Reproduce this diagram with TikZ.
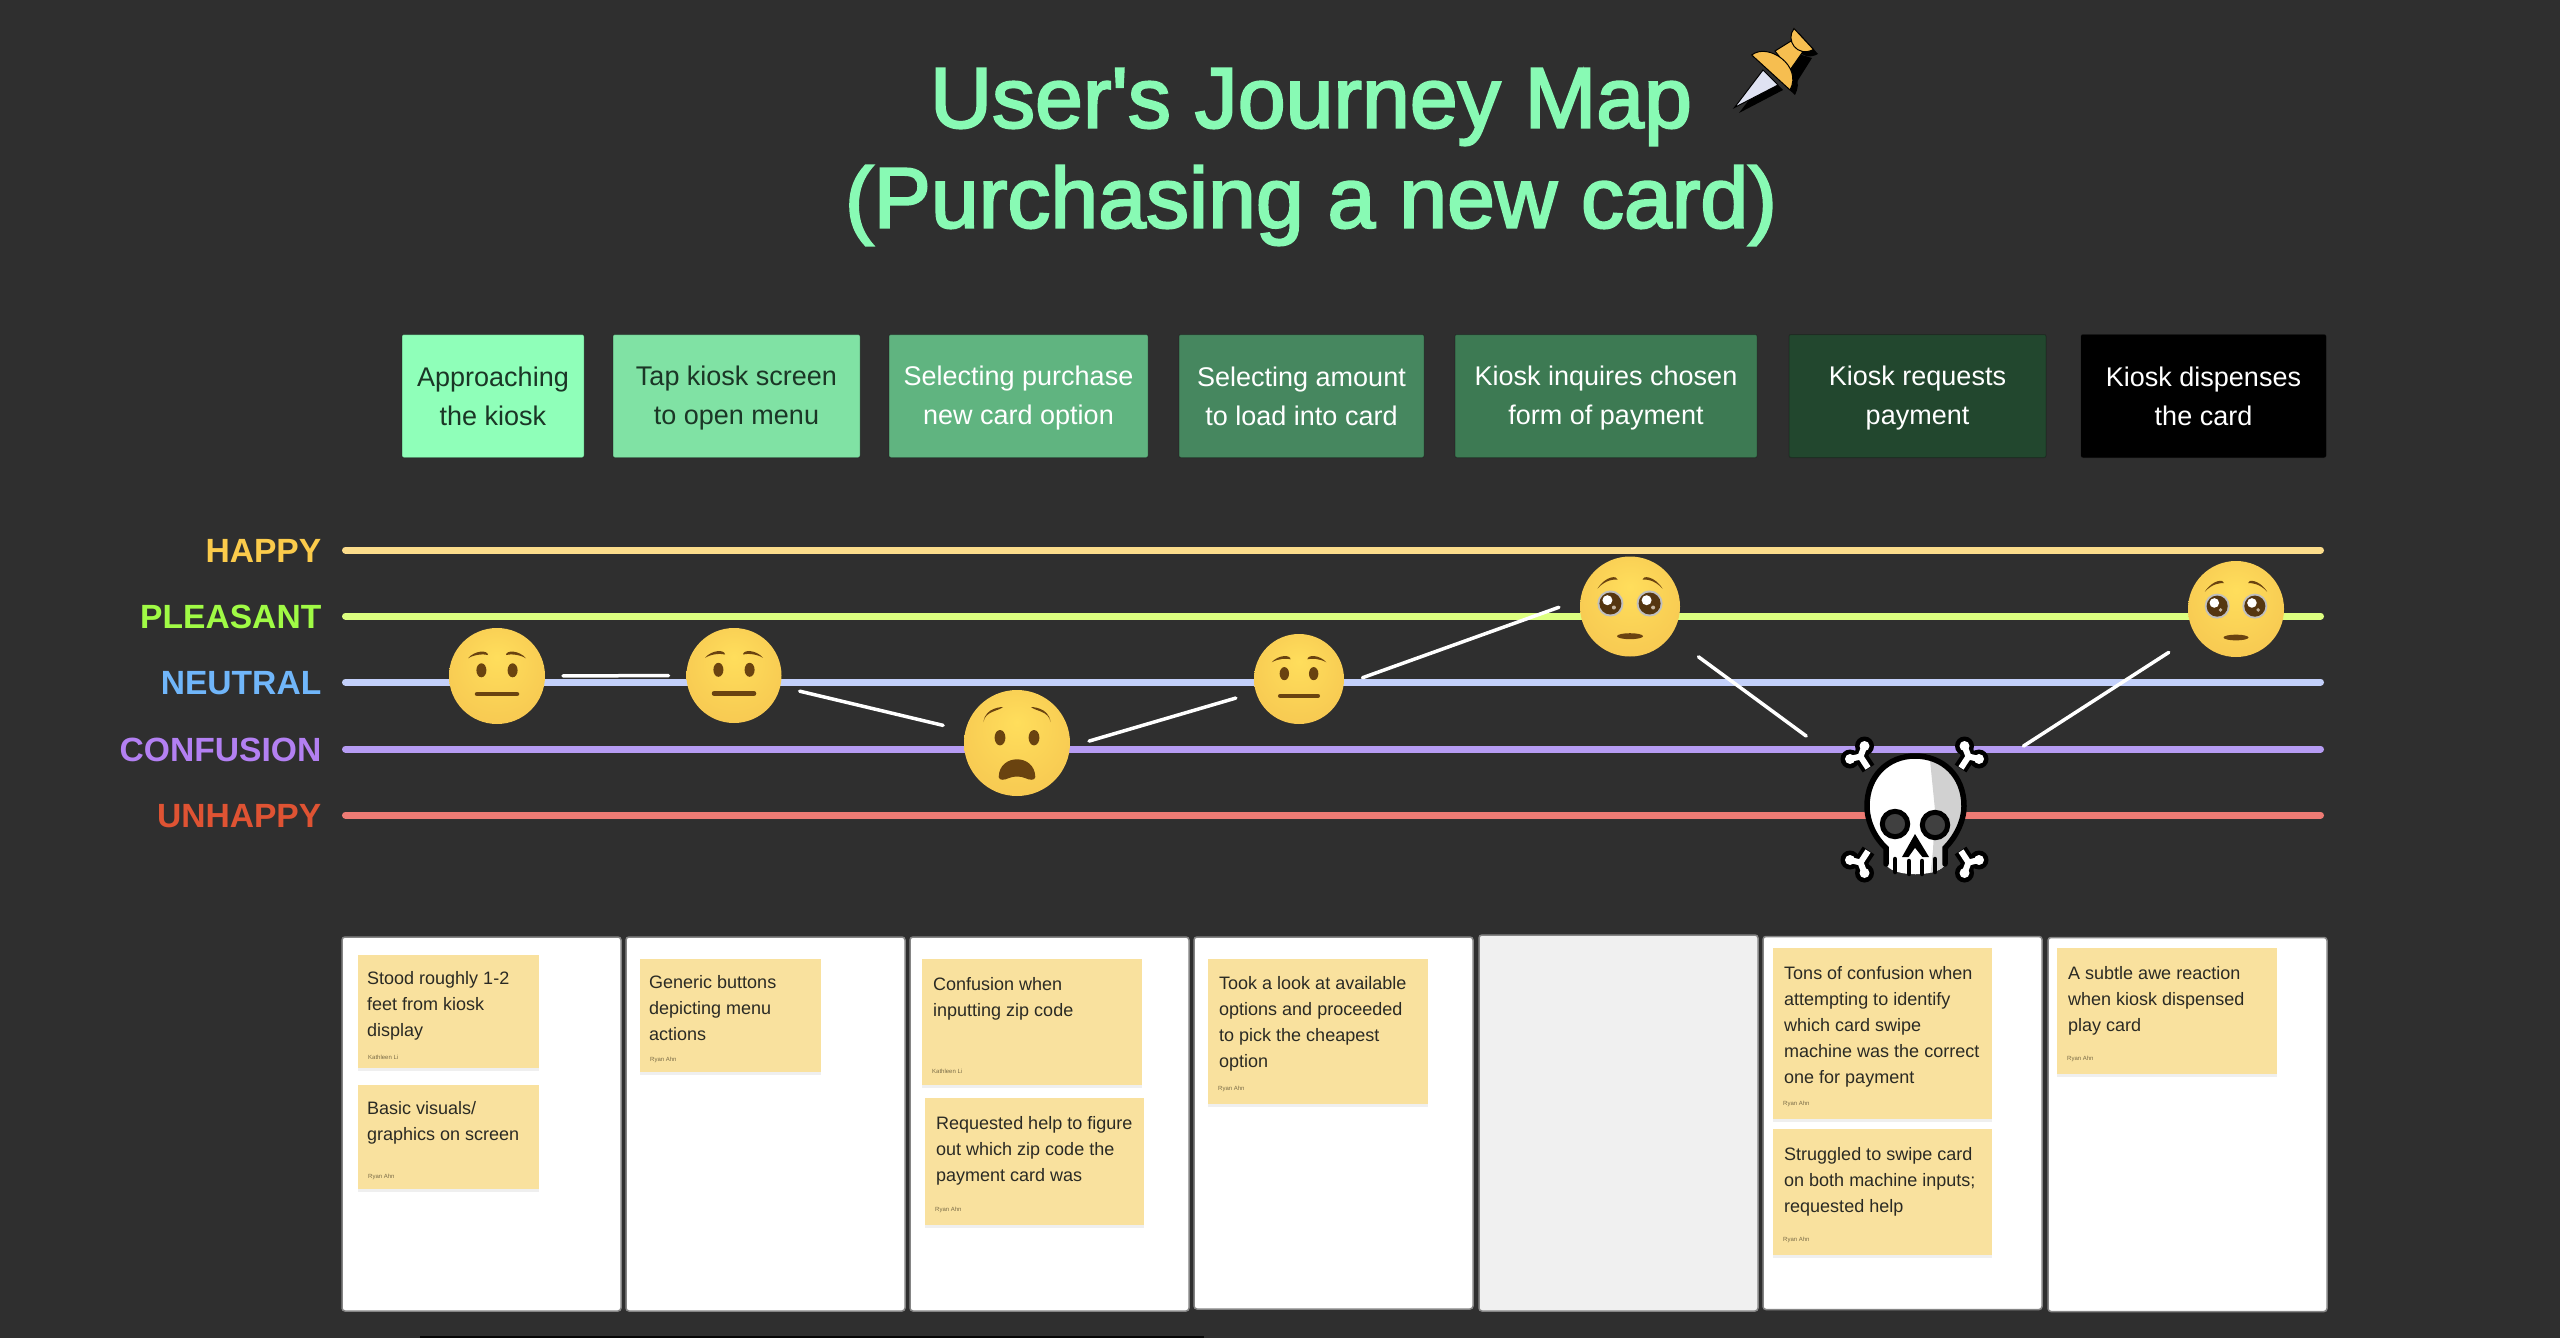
\documentclass[tikz,border=0pt]{standalone}
\usepackage{fontspec}
\usepackage{xcolor}
\usepackage{tikz}
\usetikzlibrary{positioning, shadows}
\setmainfont{Liberation Sans}
\newfontfamily\titlefont[FakeBold=2.5]{Liberation Sans}
\definecolor{boardbg}{HTML}{2F2F2F}
\definecolor{titlegreen}{HTML}{88FAB4}
\definecolor{stepA}{HTML}{8FFFB9}
\definecolor{stepB}{HTML}{80E2A4}
\definecolor{stepC}{HTML}{60B480}
\definecolor{stepD}{HTML}{46875F}
\definecolor{stepE}{HTML}{3D7A53}
\definecolor{stepF}{HTML}{22472E}
\definecolor{stepdark}{HTML}{1B3626}
\definecolor{happytext}{HTML}{FBCB4B}
\definecolor{pleasanttext}{HTML}{A0FB45}
\definecolor{neutraltext}{HTML}{70B6FA}
\definecolor{confusiontext}{HTML}{B380F2}
\definecolor{unhappytext}{HTML}{DF5333}
\definecolor{happyline}{HTML}{FBDC8B}
\definecolor{pleasantline}{HTML}{DDFF80}
\definecolor{neutralline}{HTML}{C3D0FA}
\definecolor{confusionline}{HTML}{B69CF3}
\definecolor{unhappyline}{HTML}{EE7B74}
\definecolor{notefill}{HTML}{F9E19E}
\definecolor{notetext}{HTML}{2A2A24}
\definecolor{authortext}{HTML}{7A6C48}
\definecolor{cardedge}{HTML}{858585}
\definecolor{emptycard}{HTML}{F0F0F0}
\definecolor{facebrown}{HTML}{6A4310}
\definecolor{eyebrown}{HTML}{553610}
\definecolor{pingold}{HTML}{F6BE50}
\definecolor{pinsteel}{HTML}{DFE2F2}
\pgfdeclareradialshading{facegrad}{\pgfpoint{0bp}{10bp}}{
  rgb(0bp)=(1,.87,.36);
  rgb(22bp)=(.976,.81,.33);
  rgb(50bp)=(.953,.737,.298)}
\newcommand{\notebody}[5]{\parbox[c][#2pt][t]{#1pt}{\vspace*{#3pt}\raggedright\leftskip=#4pt\relax\strut #5}}
\newcommand{\browpair}[6]{%
  \fill[facebrown] (-#1,#2) .. controls (-#3,#4) and (-#5,#4) .. (-#5,#6) .. controls (-#5-4,#4+4) and (-#3,#4+4) .. cycle;
  \fill[facebrown] (#1,#2) .. controls (#3,#4) and (#5,#4) .. (#5,#6) .. controls (#5+4,#4+4) and (#3,#4+4) .. cycle;}
\newcommand{\neutralfeatures}[2]{%
  \begin{scope}[shift={(#1.center)}, scale=#2]
    \browpair{29}{-17.7}{22}{-26}{9}{-21}
    \fill[facebrown] (-15.6,-5.7) ellipse (5 and 7);
    \fill[facebrown] (15.6,-5.7) ellipse (5 and 7);
    \draw[facebrown, line width=4.5pt, line cap=round] (-20,18) -- (20,18);
  \end{scope}}
\newcommand{\pleadingfeatures}[2]{%
  \begin{scope}[shift={(#1.center)}, scale=#2]
    \browpair{32.5}{-18}{24}{-31}{12.5}{-27}
    \foreach \ex in {-19.6,19.6}{
      \fill[black!25] (\ex,-3) circle (13);
      \fill[eyebrown] (\ex,-3) circle (11);
      \fill[white] (\ex-3,-6.3) circle (5);
      \fill[white!60!facebrown] (\ex+3.5,1) circle (2);
    }
    \fill[facebrown] (0,29.7) ellipse (13 and 3);
  \end{scope}}

\begin{document}
\begin{tikzpicture}[
    x=1pt, y=-1pt,
    stepbox/.style={rectangle, draw=black, draw opacity=.22, line width=1pt, outer sep=0pt, rounded corners=2pt, minimum height=123pt, align=center, text=white, font=\fontsize{27}{39}\selectfont, execute at begin node={\rule{0pt}{63pt}}, execute at end node={\rule[-5pt]{0pt}{1pt}}},
    levellabel/.style={inner sep=0pt, yshift=-1pt, font=\bfseries\fontsize{33.6}{35}\selectfont},
    levelline/.style={line width=7pt, line cap=round},
    card/.style={rectangle, draw=cardedge, fill=white, line width=1.5pt, outer sep=0pt, rounded corners=3pt, minimum width=279pt},
    sticky/.style={rectangle, anchor=north west, fill=notefill, inner sep=0pt, text=notetext, drop shadow={opacity=.12, shadow xshift=0pt, shadow yshift=-3pt}, font=\fontsize{18}{26}\selectfont},
    authorlabel/.style={anchor=south west, inner sep=0pt, text=authortext, xshift=10pt, yshift=9pt, font=\fontsize{6}{7}\selectfont},
    face/.style={circle, draw=none, inner sep=0pt, outer sep=0pt, shading=facegrad},
    journeyline/.style={white, line width=3.5pt, line cap=round}
]
    \useasboundingbox (0,0) rectangle (2560,1338);
    \fill[boardbg] (0,0) rectangle (2560,1338);
    \fill[black!85!boardbg] (420,1336) rectangle (1204,1338);

    % title and pin
    \node[align=center, text=titlegreen, font=\titlefont\fontsize{86}{100}\selectfont] (title) at (1311,157) {User's Journey Map\\(Purchasing a new card)};
    \fill[black] (1739,113) -- (1768,75) -- (1783,90) -- cycle;
    \fill[black] (1757,60) .. controls (1773,47) and (1808,71) .. (1795,95) -- cycle;
    \fill[black] (1799,33) .. controls (1790,45) and (1802,63) .. (1818,54) -- cycle;
    \fill[black] (1785,50) -- (1812,58) -- (1795,85) -- cycle;
    \draw[black, fill=pinsteel, line width=1pt] (1734.5,107.5) -- (1763,70) -- (1778,85) -- cycle;
    \draw[black, fill=pingold, line width=1pt] (1775,51) -- (1791,41) -- (1803,51.5) -- (1790,70) -- cycle;
    \draw[black, fill=pingold, line width=1pt] (1751.7,55) .. controls (1768,42) and (1803,66) .. (1790,90) -- cycle;
    \draw[black, fill=pingold, line width=1pt] (1794,28.5) .. controls (1785,40) and (1797,58) .. (1813.5,49.5) -- cycle;

    % steps
    \node[stepbox, fill=stepA, minimum width=182pt, text=stepdark] (s1) at (493,396) {Approaching\\the kiosk};
    \node[stepbox, fill=stepB, minimum width=247pt, text=stepdark, right=29pt of s1] (s2) {Tap kiosk screen\\to open menu};
    \node[stepbox, fill=stepC, minimum width=259pt, right=29pt of s2] (s3) {Selecting purchase\\new card option};
    \node[stepbox, fill=stepD, minimum width=245pt, right=31pt of s3] (s4) {Selecting amount\\to load into card};
    \node[stepbox, fill=stepE, minimum width=302pt, right=31pt of s4] (s5) {Kiosk inquires chosen\\form of payment};
    \node[stepbox, fill=stepF, minimum width=257pt, right=32pt of s5] (s6) {Kiosk requests\\payment};
    \node[stepbox, fill=black, minimum width=245pt, right=35pt of s6] (s7) {Kiosk dispenses\\the card};

    % mood levels
    \coordinate (happyL) at (345.5,550);
    \coordinate (happyR) at (2320.5,550);
    \coordinate (pleasantL) at (345.5,616);
    \coordinate (pleasantR) at (2320.5,616);
    \coordinate (neutralL) at (345.5,682);
    \coordinate (neutralR) at (2320.5,682);
    \coordinate (confusionL) at (345.5,749);
    \coordinate (confusionR) at (2320.5,749);
    \coordinate (unhappyL) at (345.5,815);
    \coordinate (unhappyR) at (2320.5,815);
    \draw[levelline, happyline] (happyL) -- (happyR);
    \draw[levelline, pleasantline] (pleasantL) -- (pleasantR);
    \draw[levelline, neutralline] (neutralL) -- (neutralR);
    \draw[levelline, confusionline] (confusionL) -- (confusionR);
    \draw[levelline, unhappyline] (unhappyL) -- (unhappyR);
    \node[levellabel, text=happytext, left=24pt of happyL] (happy) {HAPPY};
    \node[levellabel, text=pleasanttext, left=24pt of pleasantL] (pleasant) {PLEASANT};
    \node[levellabel, text=neutraltext, left=24pt of neutralL] (neutral) {NEUTRAL};
    \node[levellabel, text=confusiontext, left=24pt of confusionL] (confusion) {CONFUSION};
    \node[levellabel, text=unhappytext, left=24pt of unhappyL] (unhappy) {UNHAPPY};

    % faces
    \node[face, minimum size=96pt] (f1) at (497,676) {};
    \node[face, minimum size=95pt] (f2) at (734,675.5) {};
    \node[face, minimum size=106pt] (f3) at (1017,743) {};
    \node[face, minimum size=90pt] (f4) at (1299,679) {};
    \node[face, minimum size=100pt] (f5) at (1630,606.5) {};
    \node[face, minimum size=96pt] (f6) at (2236,609) {};
    \node[circle, minimum size=150pt, inner sep=0pt, outer sep=0pt] (skull) at (1915,816) {};
    \neutralfeatures{f1}{1}
    \neutralfeatures{f2}{1}
    \neutralfeatures{f4}{.94}
    \pleadingfeatures{f5}{1}
    \pleadingfeatures{f6}{.96}
    \begin{scope}[shift={(f3.center)}]
      \browpair{33.5}{-21}{32}{-36}{14}{-36}
      \fill[facebrown] (-17,-5.3) ellipse (5.4 and 7.7);
      \fill[facebrown] (17,-5.3) ellipse (5.4 and 7.7);
      \fill[facebrown] (-18.3,34) .. controls (-18,22) and (-9,16.3) .. (0,16.3) .. controls (9,16.3) and (18,22) .. (18.3,34) .. controls (18,38) and (12,37) .. (8,35) .. controls (3,33) and (-3,33) .. (-8,35) .. controls (-12,37) and (-18,38) .. cycle;
    \end{scope}

    % skull and bones
    \foreach \sx/\sy in {1/1,-1/1,1/-1,-1/-1}{
      \begin{scope}[shift={(1914.5,809.5)}, xscale=\sx, yscale=\sy]
        \draw[black, line width=14pt] (-50,-63.5) -- (-54,-53) -- (-64.5,-50.5);
        \draw[black, line width=14pt] (-54,-53) -- (-46,-41);
        \fill[black] (-50,-63.5) circle (9.5);
        \fill[black] (-64.5,-50.5) circle (9.5);
        \draw[white, line width=6pt] (-50,-63.5) -- (-54,-53) -- (-64.5,-50.5);
        \draw[white, line width=6pt] (-54,-53) -- (-46.5,-41.5);
        \fill[white] (-50,-63.5) circle (5);
        \fill[white] (-64.5,-50.5) circle (5);
      \end{scope}
    }
    \fill[white] (1887,866) -- (1887,848) .. controls (1875,838) and (1867,822) .. (1867,806) .. controls (1867,776) and (1888,756) .. (1915,756) .. controls (1943,756) and (1964,776) .. (1964,806) .. controls (1964,822) and (1955,838) .. (1944,848) -- (1944,866) .. controls (1935,877) and (1896,877) .. cycle;
    \begin{scope}
      \clip (1887,866) -- (1887,848) .. controls (1875,838) and (1867,822) .. (1867,806) .. controls (1867,776) and (1888,756) .. (1915,756) .. controls (1943,756) and (1964,776) .. (1964,806) .. controls (1964,822) and (1955,838) .. (1944,848) -- (1944,866) .. controls (1935,877) and (1896,877) .. cycle;
      \fill[black!18!white] (1929,750) -- (1935,810) -- (1933,850) -- (1930,880) -- (1970,880) -- (1970,750) -- cycle;
    \end{scope}
    \draw[black, line width=5.5pt, line cap=round] (1886,864) -- (1886,848) .. controls (1875,838) and (1867,822) .. (1867,806) .. controls (1867,776) and (1888,756) .. (1915,756) .. controls (1943,756) and (1964,776) .. (1964,806) .. controls (1964,822) and (1955,838) .. (1945,848) -- (1945,864);
    \draw[black, fill=black!75!white, line width=5pt] (1895,824) circle (12.7);
    \draw[black, fill=black!75!white, line width=5pt] (1935,825) circle (12.7);
    \fill[black] (1915,834) -- (1929,857) -- (1902,857) -- cycle;
    \fill[white] (1915,848) -- (1923,858) -- (1908,858) -- cycle;
    \draw[black, line width=4.5pt, line cap=round] (1895,859) -- (1895,872);
    \draw[black, line width=4.5pt, line cap=round] (1909,861) -- (1909,874);
    \draw[black, line width=4.5pt, line cap=round] (1922,861) -- (1922,874);
    \draw[black, line width=4.5pt, line cap=round] (1935,859) -- (1935,872);

    % journey
    \draw[journeyline, shorten <=18pt, shorten >=18pt] (f1) -- (f2);
    \draw[journeyline, shorten <=20pt, shorten >=23pt] (f2) -- (f3);
    \draw[journeyline, shorten <=20pt, shorten >=21pt] (f3.-4) -- (f4.197);
    \draw[journeyline, shorten <=20pt, shorten >=23pt] (f4.-7) -- (f5.172);
    \draw[journeyline, shorten <=35pt, shorten >=60pt] (f5) -- (skull);
    \draw[journeyline, shorten <=54pt, shorten >=32pt] (skull) -- (f6);

    % observation cards
    \node[card, minimum height=374pt] (c1) at (481.5,1124) {};
    \node[card, minimum height=374pt, right=5pt of c1] (c2) {};
    \node[card, minimum height=374pt, right=5pt of c2] (c3) {};
    \node[card, minimum height=372pt, right=5pt of c3, yshift=1pt] (c4) {};
    \node[card, minimum height=376pt, fill=emptycard, right=6pt of c4] (c5) {};
    \node[card, minimum height=373pt, right=5pt of c5] (c6) {};
    \node[card, minimum height=374pt, right=6pt of c6, yshift=-1.5pt] (c7) {};

    % sticky notes
    \node[sticky, label={[authorlabel]south west:Kathleen Li}] (n1a) at (358,955) {\notebody{181}{113}{11}{9}{Stood roughly 1-2\\feet from kiosk\\display}};
    \node[sticky, label={[authorlabel]south west:Ryan Ahn}] (n1b) at (358,1085) {\notebody{181}{104}{11}{9}{Basic visuals/\\graphics on screen}};
    \node[sticky, label={[authorlabel]south west:Ryan Ahn}] (n2) at (640,959) {\notebody{181}{113}{11}{9}{Generic buttons\\depicting menu\\actions}};
    \node[sticky, label={[authorlabel, yshift=3pt]south west:Kathleen Li}] (n3a) at (922,959) {\notebody{220}{126}{13}{11}{Confusion when\\inputting zip code}};
    \node[sticky, label={[authorlabel, yshift=3pt]south west:Ryan Ahn}] (n3b) at (925,1098) {\notebody{219}{127}{13}{11}{Requested help to figure\\out which zip code the\\payment card was}};
    \node[sticky, label={[authorlabel, yshift=3pt]south west:Ryan Ahn}] (n4) at (1208,958.5) {\notebody{220}{145}{13}{11}{Took a look at available\\options and proceeded\\to pick the cheapest\\option}};
    \node[sticky, label={[authorlabel, yshift=3pt]south west:Ryan Ahn}] (n6a) at (1773,948) {\notebody{219}{171}{13}{11}{Tons of confusion when\\attempting to identify\\which card swipe\\machine was the correct\\one for payment}};
    \node[sticky, label={[authorlabel, yshift=3pt]south west:Ryan Ahn}] (n6b) at (1773,1129) {\notebody{219}{126}{13}{11}{Struggled to swipe card\\on both machine inputs;\\requested help}};
    \node[sticky, label={[authorlabel, yshift=3pt]south west:Ryan Ahn}] (n7) at (2057,948) {\notebody{220}{126}{13}{11}{A subtle awe reaction\\when kiosk dispensed\\play card}};
\end{tikzpicture}
\end{document}
